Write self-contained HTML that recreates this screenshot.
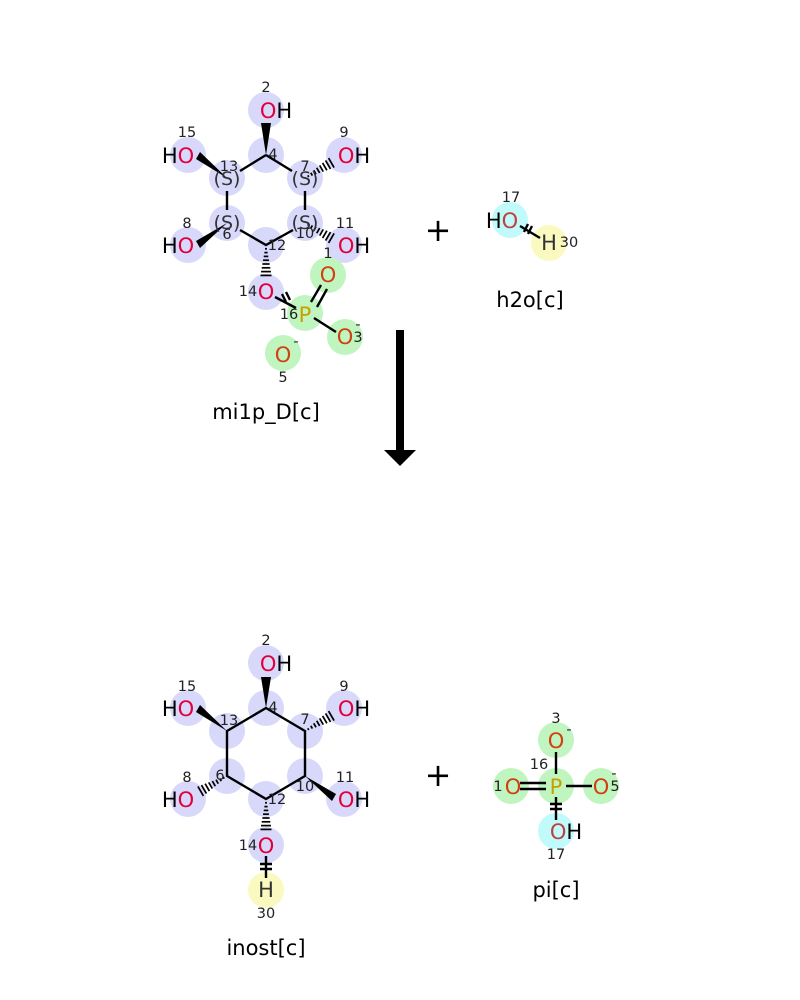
<!DOCTYPE html>
<html><head><meta charset="utf-8"><style>
html,body{margin:0;padding:0;background:#fff;width:800px;height:1000px;overflow:hidden}
svg text{font-family:"DejaVu Sans","Liberation Sans",sans-serif}
.a{font-size:21px;text-anchor:middle;dominant-baseline:central}
.n{font-size:14.5px;fill:#222;text-anchor:middle;dominant-baseline:central}
.l{font-size:21px;fill:#000;text-anchor:middle;dominant-baseline:central}
.b{stroke:#000;stroke-width:2.4;fill:none}
.blue{fill:#d8d8fa}.green{fill:#c0f5c0}.cyan{fill:#c0fafa}.yel{fill:#fafac0}
.o{fill:#e0003c}.oo{fill:#d04010}.h{fill:#000}.p{fill:#c8a000}
</style></head><body>
<svg width="800" height="1000" viewBox="0 0 800 1000" xmlns="http://www.w3.org/2000/svg">
<defs>
<g id="hash" stroke="#000" stroke-width="1.8">
<line x1="4" y1="-1" x2="4" y2="1"/>
<line x1="8" y1="-1.7" x2="8" y2="1.7"/>
<line x1="12" y1="-2.4" x2="12" y2="2.4"/>
<line x1="16" y1="-3.1" x2="16" y2="3.1"/>
<line x1="20" y1="-3.8" x2="20" y2="3.8"/>
<line x1="24" y1="-4.5" x2="24" y2="4.5"/>
<line x1="28" y1="-5.2" x2="28" y2="5.2"/>
<line x1="32" y1="-5.8" x2="32" y2="5.8"/>
</g>
</defs>
<!-- ===== TOP molecule mi1p_D ===== -->
<g>
<circle class="blue" cx="266" cy="110" r="18"/>
<circle class="blue" cx="266" cy="155" r="18"/>
<circle class="blue" cx="305" cy="178" r="18"/>
<circle class="blue" cx="305" cy="223" r="18"/>
<circle class="blue" cx="266" cy="245" r="18"/>
<circle class="blue" cx="227" cy="223" r="18"/>
<circle class="blue" cx="227" cy="178" r="18"/>
<circle class="blue" cx="188" cy="155" r="18"/>
<circle class="blue" cx="344" cy="155" r="18"/>
<circle class="blue" cx="188" cy="245" r="18"/>
<circle class="blue" cx="344" cy="245" r="18"/>
<circle class="blue" cx="266" cy="292" r="18"/>
<circle class="green" cx="328" cy="275" r="18"/>
<circle class="green" cx="305" cy="313" r="18"/>
<circle class="green" cx="345" cy="337" r="18"/>
<circle class="green" cx="283" cy="353" r="18"/>
<path class="b" d="M266 155 L292 171 M305 191 L305 210 M293 230 L266 245 L240 230 M227 210 L227 191 M240 171 L266 155"/>
<polygon points="266,155 261,123 271,123" fill="#000"/>
<polygon points="227,178 196,159 200,152" fill="#000"/>
<polygon points="227,223 196,241 200,248" fill="#000"/>
<use href="#hash" transform="translate(305,178) rotate(-30) scale(0.95)"/>
<use href="#hash" transform="translate(305,223) rotate(30) scale(0.95)"/>
<use href="#hash" transform="translate(266,245) rotate(90) scale(0.95)"/>
<path class="b" d="M275 297 L296 308 M311 302 L321 285 M317 307 L327 289 M314 318 L336 332"/>
<path class="b" d="M282 294 L286 302 M286 292 L290 300"/>
<text class="a" x="276" y="111"><tspan class="o">O</tspan><tspan class="h">H</tspan></text>
<text class="a" x="178" y="156"><tspan class="h">H</tspan><tspan class="o">O</tspan></text>
<text class="a" x="354" y="156"><tspan class="o">O</tspan><tspan class="h">H</tspan></text>
<text class="a" x="178" y="246"><tspan class="h">H</tspan><tspan class="o">O</tspan></text>
<text class="a" x="354" y="246"><tspan class="o">O</tspan><tspan class="h">H</tspan></text>
<text class="a o" x="266" y="292">O</text>
<text class="a oo" x="328" y="275">O</text>
<text class="a p" x="305" y="315">P</text>
<text class="a oo" x="345" y="337">O</text>
<text class="a oo" x="283" y="355">O</text>
<text class="a" x="227" y="179" fill="#333" style="font-size:19px">(S)</text>
<text class="a" x="305" y="179" fill="#333" style="font-size:19px">(S)</text>
<text class="a" x="227" y="223" fill="#333" style="font-size:19px">(S)</text>
<text class="a" x="305" y="223" fill="#333" style="font-size:19px">(S)</text>
<text class="n" x="266" y="88">2</text>
<text class="n" x="273" y="155">4</text>
<text class="n" x="305" y="167">7</text>
<text class="n" x="229" y="167">13</text>
<text class="n" x="187" y="133">15</text>
<text class="n" x="344" y="133">9</text>
<text class="n" x="187" y="224">8</text>
<text class="n" x="227" y="235">6</text>
<text class="n" x="277" y="246">12</text>
<text class="n" x="305" y="234">10</text>
<text class="n" x="345" y="224">11</text>
<text class="n" x="328" y="254">1</text>
<text class="n" x="248" y="292">14</text>
<text class="n" x="289" y="315">16</text>
<text class="n" x="358" y="338">3</text>
<text class="n" x="283" y="378">5</text>
<text class="n" x="358" y="325">-</text>
<text class="n" x="296" y="342">-</text>
<text class="l" x="266" y="412">mi1p_D[c]</text>
</g>
<text class="l" x="438" y="230" style="font-size:32px">+</text>
<circle class="cyan" cx="510" cy="220" r="18"/>
<circle class="yel" cx="549" cy="243" r="18"/>
<path class="b" d="M520 226 L540 238 M528 224 L524 232 M532 226 L528 234"/>
<text class="a" x="502" y="221"><tspan class="h">H</tspan><tspan fill="#c04040">O</tspan></text>
<text class="a" x="549" y="243" fill="#333">H</text>
<text class="n" x="511" y="198">17</text>
<text class="n" x="569" y="243">30</text>
<text class="l" x="530" y="300">h2o[c]</text>
<rect x="396" y="330" width="8" height="121" fill="#000"/>
<polygon points="384,450 416,450 400,466" fill="#000"/>
<!-- ===== BOTTOM inost ===== -->
<g>
<circle class="blue" cx="266" cy="663" r="18"/>
<circle class="blue" cx="266" cy="708" r="18"/>
<circle class="blue" cx="305" cy="731" r="18"/>
<circle class="blue" cx="305" cy="776" r="18"/>
<circle class="blue" cx="266" cy="799" r="18"/>
<circle class="blue" cx="227" cy="776" r="18"/>
<circle class="blue" cx="227" cy="731" r="18"/>
<circle class="blue" cx="188" cy="708" r="18"/>
<circle class="blue" cx="344" cy="708" r="18"/>
<circle class="blue" cx="188" cy="799" r="18"/>
<circle class="blue" cx="344" cy="799" r="18"/>
<circle class="blue" cx="266" cy="845" r="18"/>
<circle class="yel" cx="266" cy="890" r="18"/>
<path class="b" d="M266 708 L305 731 L305 776 L266 799 L227 776 L227 731 Z"/>
<polygon points="266,708 261,677 271,677" fill="#000"/>
<polygon points="227,731 196,712 200,705" fill="#000"/>
<polygon points="305,776 336,794 332,801" fill="#000"/>
<use href="#hash" transform="translate(305,731) rotate(-30) scale(0.95)"/>
<use href="#hash" transform="translate(227,776) rotate(150) scale(0.95)"/>
<use href="#hash" transform="translate(266,799) rotate(90) scale(0.95)"/>
<path class="b" d="M266 856 L266 878 M260 864 L272 864 M260 869 L272 869"/>
<text class="a" x="276" y="664"><tspan class="o">O</tspan><tspan class="h">H</tspan></text>
<text class="a" x="178" y="709"><tspan class="h">H</tspan><tspan class="o">O</tspan></text>
<text class="a" x="354" y="709"><tspan class="o">O</tspan><tspan class="h">H</tspan></text>
<text class="a" x="178" y="800"><tspan class="h">H</tspan><tspan class="o">O</tspan></text>
<text class="a" x="354" y="800"><tspan class="o">O</tspan><tspan class="h">H</tspan></text>
<text class="a o" x="266" y="846">O</text>
<text class="a" x="266" y="890" fill="#333">H</text>
<text class="n" x="266" y="641">2</text>
<text class="n" x="273" y="708">4</text>
<text class="n" x="305" y="720">7</text>
<text class="n" x="229" y="721">13</text>
<text class="n" x="187" y="687">15</text>
<text class="n" x="344" y="687">9</text>
<text class="n" x="187" y="778">8</text>
<text class="n" x="220" y="776">6</text>
<text class="n" x="277" y="800">12</text>
<text class="n" x="305" y="787">10</text>
<text class="n" x="345" y="778">11</text>
<text class="n" x="248" y="846">14</text>
<text class="n" x="266" y="914">30</text>
<text class="l" x="266" y="948">inost[c]</text>
</g>
<text class="l" x="438" y="775" style="font-size:32px">+</text>
<circle class="green" cx="556" cy="740" r="18"/>
<circle class="green" cx="556" cy="786" r="18"/>
<circle class="green" cx="511" cy="786" r="18"/>
<circle class="green" cx="601" cy="786" r="18"/>
<circle class="cyan" cx="556" cy="831" r="18"/>
<path class="b" d="M556 752 L556 774 M520 783 L546 783 M520 789 L546 789 M566 786 L592 786 M556 797 L556 820 M550 804 L562 804 M550 809 L562 809"/>
<text class="a oo" x="556" y="741">O</text>
<text class="a p" x="556" y="787">P</text>
<text class="a oo" x="513" y="787">O</text>
<text class="a oo" x="601" y="787">O</text>
<text class="a" x="566" y="832"><tspan fill="#c04040">O</tspan><tspan class="h">H</tspan></text>
<text class="n" x="556" y="719">3</text>
<text class="n" x="569" y="730">-</text>
<text class="n" x="539" y="765">16</text>
<text class="n" x="498" y="787">1</text>
<text class="n" x="615" y="787">5</text>
<text class="n" x="614" y="774">-</text>
<text class="n" x="556" y="855">17</text>
<text class="l" x="556" y="890">pi[c]</text>
</svg>
</body></html>
